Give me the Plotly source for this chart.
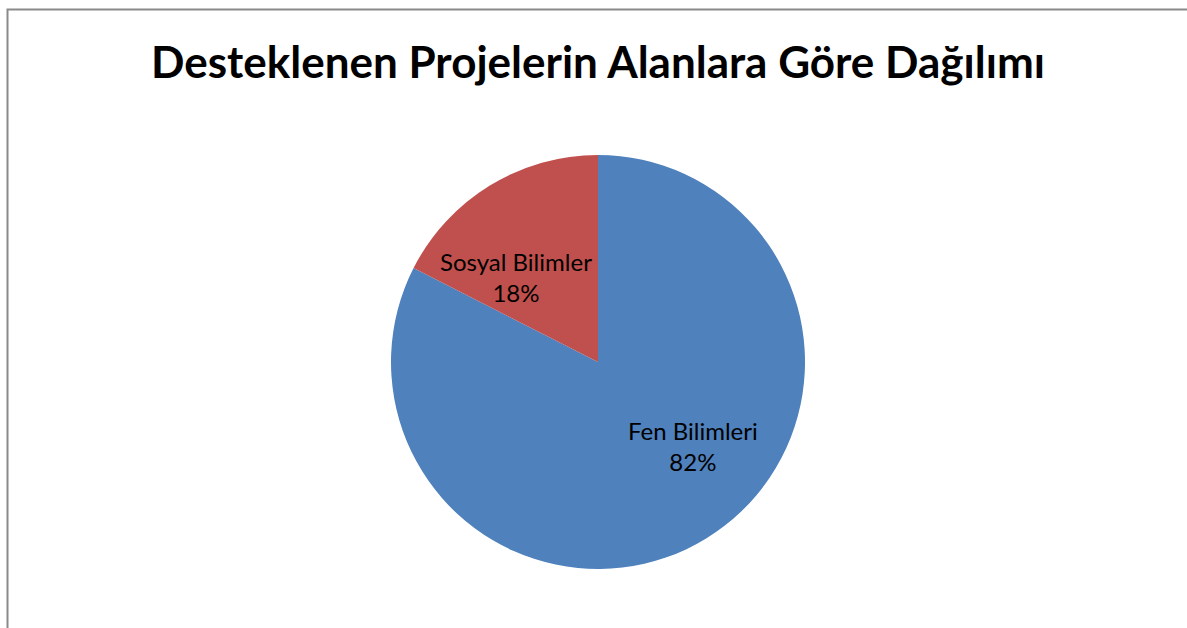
import plotly.graph_objects as go

categories = ["Fen Bilimleri", "Sosyal Bilimler"]
values = [82.5, 17.5]
pct_labels = ["82%", "18%"]
colors = ["#4F81BD", "#C0504D"]

W, H = 1187, 628
# pie placement (pixels)
CX, CY, R = 598, 362, 207
# label offsets relative to pie centre, in radius units (x right, y up)
label_offsets = [(0.459, -0.406), (-0.396, 0.411)]

fig = go.Figure(go.Pie(
    labels=categories,
    values=values,
    textinfo="none",
    sort=False,
    direction="clockwise",
    rotation=0,
    marker=dict(colors=colors, line=dict(width=0)),
    showlegend=False,
    hoverinfo="label+percent",
    domain=dict(x=[(CX - R) / W, (CX + R) / W], y=[(H - CY - R) / H, (H - CY + R) / H]),
))

annotations = []
for cat, pct, (ox, oy) in zip(categories, pct_labels, label_offsets):
    annotations.append(dict(
        text=f"{cat}<br>{pct}",
        xref="paper", yref="paper",
        x=(CX + ox * R) / W, y=(H - CY + oy * R) / H,
        xanchor="center", yanchor="middle",
        showarrow=False, align="center",
        font=dict(family="Lato", size=24, color="black"),
    ))

fig.update_layout(
    width=W, height=H,
    margin=dict(l=0, r=0, t=0, b=0),
    paper_bgcolor="white",
    title=dict(
        text="<b>Desteklenen Projelerin Alanlara Göre Dağılımı</b>",
        x=598 / W, xanchor="center",
        y=1 - 63 / H, yanchor="middle",
        font=dict(family="Lato", size=44, color="black"),
    ),
    annotations=annotations,
    shapes=[dict(
        type="rect", xref="paper", yref="paper",
        x0=7.5 / W, x1=1.05, y0=-0.05, y1=1 - 9.5 / H,
        line=dict(color="#8A8A8A", width=2), fillcolor="rgba(0,0,0,0)",
    )],
)

fig.write_html(
    "out.html",
    config={"displayModeBar": False},
    post_script="document.body.style.margin='0';document.body.style.overflow='hidden';",
)
